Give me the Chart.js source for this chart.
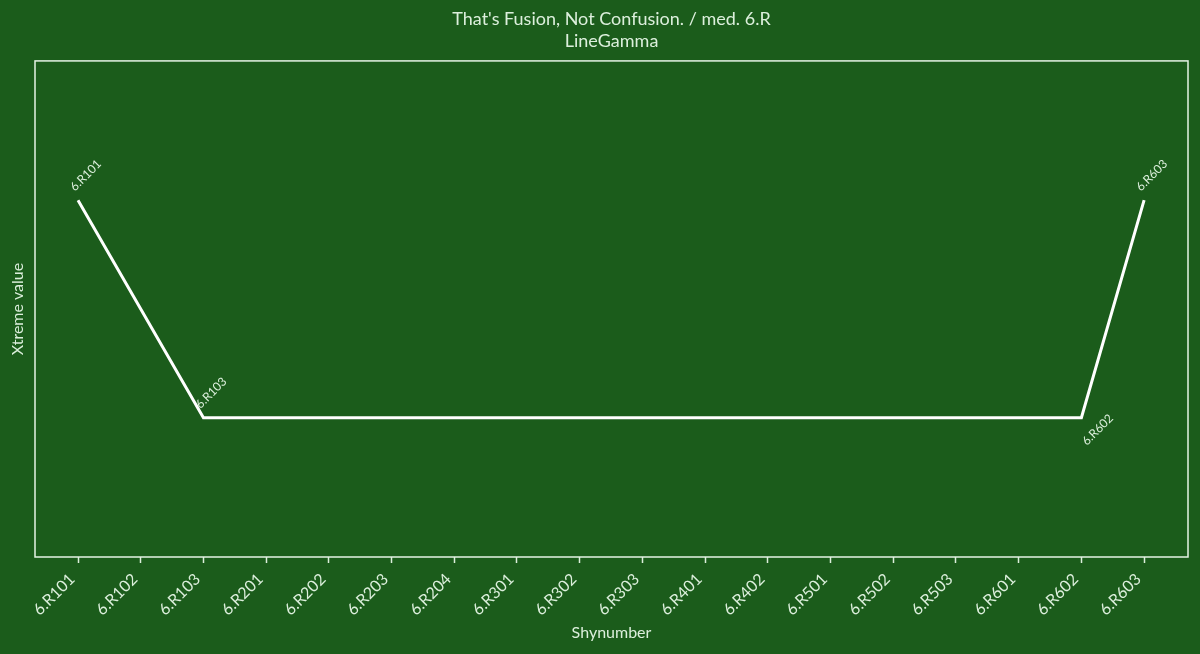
<!DOCTYPE html>
<html>
<head>
<meta charset="utf-8">
<script src="https://cdn.jsdelivr.net/npm/chart.js@4"></script>
<style>
  html, body { margin: 0; padding: 0; background: #1b5c1b; }
  #wrap { width: 1200px; height: 654px; }
</style>
</head>
<body>
<div id="wrap"><canvas id="lineChart"></canvas></div>
<script>
// setup
const categories = ['6.R101', '6.R102', '6.R103', '6.R201', '6.R202', '6.R203', '6.R204',
  '6.R301', '6.R302', '6.R303', '6.R401', '6.R402', '6.R501', '6.R502', '6.R503',
  '6.R601', '6.R602', '6.R603'];
// only the turning points carry a value, the line spans the gaps
const values = [1, null, 0, null, null, null, null, null, null, null, null, null, null,
  null, null, null, 0, 1];
const labelBelow = ['6.R602'];

const textColor = '#dcefdc';
const font = 'Lato, "Open Sans", sans-serif';

// point labels, rotated like the reference
const pointLabels = {
  id: 'pointLabels',
  afterDatasetsDraw(chart) {
    const ctx = chart.ctx;
    const meta = chart.getDatasetMeta(0);
    ctx.save();
    ctx.fillStyle = textColor;
    ctx.font = '12px ' + font;
    ctx.textAlign = 'center';
    ctx.textBaseline = 'middle';
    meta.data.forEach((pt, i) => {
      if (values[i] === null) return;
      const below = labelBelow.includes(categories[i]);
      ctx.save();
      ctx.translate(pt.x, pt.y);
      ctx.rotate(-Math.PI / 4);
      if (below) {
        ctx.fillText(categories[i], 3, 20);
      } else {
        ctx.fillText(categories[i], 23, -12);
      }
      ctx.restore();
    });
    ctx.restore();
  }
};

// frame round the plot area
const frame = {
  id: 'frame',
  beforeDatasetsDraw(chart) {
    const a = chart.chartArea;
    const ctx = chart.ctx;
    ctx.save();
    ctx.strokeStyle = '#e6f4e6';
    ctx.lineWidth = 1.5;
    ctx.strokeRect(a.left, a.top, a.right - a.left, a.bottom - a.top);
    ctx.restore();
  }
};

// config
const config = {
  type: 'line',
  data: {
    datasets: [{
      label: 'LineGamma',
      data: values.map((v, i) => ({ x: i, y: v })),
      borderColor: '#ffffff',
      borderWidth: 3,
      pointRadius: 0,
      spanGaps: true,
      tension: 0
    }]
  },
  options: {
    responsive: true,
    maintainAspectRatio: false,
    animation: false,
    layout: { padding: { left: 4, right: 12, top: 0, bottom: 8 } },
    plugins: {
      legend: { display: false },
      tooltip: { enabled: false },
      title: {
        display: true,
        fullSize: false,
        text: ["That's Fusion, Not Confusion. / med. 6.R", 'LineGamma'],
        color: textColor,
        font: { family: font, size: 18, weight: 'normal', lineHeight: 1.22 },
        padding: { top: 8, bottom: 9 }
      }
    },
    scales: {
      x: {
        type: 'linear',
        min: -0.686,
        max: 17.70,
        grid: { display: true, drawOnChartArea: false, drawTicks: true, tickLength: 6, tickColor: textColor, tickWidth: 1.5 },
        border: { display: false },
        afterBuildTicks: scale => { scale.ticks = categories.map((c, i) => ({ value: i })); },
        afterFit: scale => { scale.height = 89; },
        ticks: {
          color: textColor,
          font: { family: font, size: 16 },
          maxRotation: 45,
          minRotation: 45,
          autoSkip: false,
          padding: 1,
          callback: v => categories[v] + '  '
        },
        title: {
          display: true,
          text: 'Shynumber',
          color: textColor,
          font: { family: font, size: 16 },
          padding: { top: 4 }
        }
      },
      y: {
        min: -0.64,
        max: 1.64,
        grid: { display: false },
        border: { display: false },
        ticks: { display: false },
        afterFit: scale => { scale.width = 31; },
        title: {
          display: true,
          text: 'Xtreme value',
          color: textColor,
          font: { family: font, size: 16 },
          padding: { bottom: 0 }
        }
      }
    }
  },
  plugins: [pointLabels, frame]
};

// render init block
const lineChart = new Chart(document.getElementById('lineChart'), config);
</script>
</body>
</html>
